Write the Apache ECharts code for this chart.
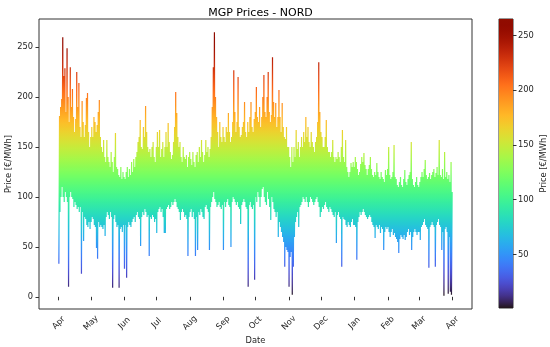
<!DOCTYPE html>
<html><head><meta charset="utf-8">
<script src="https://cdn.jsdelivr.net/npm/echarts@6/dist/echarts.min.js"></script>
<style>html,body{margin:0;padding:0;background:#fff}#c{width:550px;height:347px}</style>
</head><body><div id="c"></div>
<script>
const chartTitle = 'MGP Prices - NORD';
const startYear = 2023, startMonth = 3; // 1 April 2023, one year of data
const xTickLabels = ['Apr','May','Jun','Jul','Aug','Sep','Oct','Nov','Dec','Jan','Feb','Mar','Apr'];
const yTicks = [0, 50, 100, 150, 200, 250];
const cbTicks = [50, 100, 150, 200, 250];

// Daily maximum price (€/MWh), Apr 2023 .. Mar 2024
const dailyHigh = [
  181,190,198,260,221,229,185,249,200,175,230,190,208,180,165,178,225,190,214,170,160,196,175,160,172,199,204,165,150,160,
  170,160,180,175,165,172,185,197,160,150,145,157,140,135,157,140,135,130,145,135,125,140,164,130,128,122,120,130,118,125,120,
  118,125,130,120,128,122,135,125,138,130,140,145,155,160,177,150,148,170,160,191,165,150,145,148,140,150,155,140,135,150,
  165,150,167,140,148,155,140,150,165,150,174,155,145,138,142,155,170,205,184,160,150,155,140,135,150,140,138,142,130,140,145,
  138,132,145,135,130,142,145,135,150,140,157,145,135,142,157,145,150,140,148,160,190,230,265,200,180,165,150,175,160,155,170,
  160,155,170,165,184,165,155,160,175,227,185,165,175,220,170,160,162,170,175,195,165,160,175,165,180,195,170,165,178,185,
  210,180,175,190,170,180,200,222,185,180,200,225,185,175,182,240,195,180,194,170,180,207,180,165,194,170,160,158,170,150,150,
  140,130,150,135,150,140,167,148,155,140,150,160,150,165,155,180,160,170,155,150,165,155,150,145,155,160,175,235,185,165,
  160,150,150,160,177,150,145,145,140,145,157,140,135,140,138,145,140,135,150,167,140,135,157,130,125,120,125,134,130,135,130,
  140,135,128,122,125,133,140,135,144,132,128,122,128,132,140,128,122,120,125,122,134,125,120,118,125,120,118,115,127,122,128,
  150,122,118,120,125,152,120,118,112,110,115,120,112,110,118,127,115,112,118,122,125,155,118,112,110,115,120,112,110,
  115,120,125,120,128,137,122,118,120,124,118,122,125,128,120,124,130,122,157,122,120,128,118,145,120,125,118,122,115,135,105
];
// Daily minimum price (€/MWh)
const dailyLow = [
  33,85,100,110,100,95,105,100,95,10,100,105,100,98,90,95,92,88,90,85,90,23,85,56,80,78,72,70,75,68,
  75,80,78,72,70,49,38,75,70,72,70,68,72,61,80,85,82,78,85,80,9,78,82,75,70,72,9,68,70,65,72,
  28,72,19,70,75,72,70,75,78,80,75,82,85,80,78,51,80,85,82,88,85,80,82,41,80,78,82,80,75,78,
  64,85,88,90,85,88,80,64,64,88,90,92,88,90,95,92,95,98,95,90,88,85,77,85,88,85,80,82,78,41,80,
  85,88,80,85,78,41,80,47,85,82,88,85,80,78,90,92,88,85,47,90,95,100,105,98,95,90,92,95,90,88,92,
  47,95,90,95,98,92,90,50,95,100,98,95,92,95,90,88,73,92,95,98,95,90,88,10,92,95,90,88,92,17,
  100,95,105,100,90,100,108,110,100,95,92,105,98,90,77,100,95,88,85,80,85,60,75,70,65,60,55,30,50,47,45,
  10,40,45,2,30,60,75,80,85,70,90,92,95,100,98,95,100,95,90,95,100,98,95,92,95,98,100,95,90,80,
  85,90,88,92,95,90,88,85,90,88,85,82,80,85,54,82,85,80,78,30,80,78,77,72,70,75,72,70,75,78,72,
  72,70,37,75,80,85,82,85,88,85,82,80,78,80,82,80,75,72,70,59,72,70,68,72,64,70,68,47,65,70,68,
  70,65,60,65,68,62,64,60,58,55,44,58,62,60,58,62,57,60,65,68,62,65,47,60,65,68,65,62,65,
  65,57,70,72,75,78,72,70,68,29,70,72,75,72,70,30,72,75,78,72,70,47,65,1,68,70,65,3,60,5,2
];
const lowHour = 4, highHour = 19;

const HOUR = 3600000, DAY = 24 * HOUR;
const t0 = Date.UTC(startYear, startMonth, 1);
const tEnd = t0 + (dailyHigh.length * 24 - 1) * HOUR;
const span = tEnd - t0;
const xMin = t0 - 0.05 * span, xMax = tEnd + 0.05 * span;
const monthTicks = xTickLabels.map((_, i) => Date.UTC(startYear, startMonth + i, 1));

const lineData = [];
dailyHigh.forEach((h, d) => {
  const base = t0 + d * DAY;
  lineData.push([base + lowHour * HOUR, dailyLow[d]]);
  lineData.push([base + highHour * HOUR, h]);
});
const vmin = Math.min(...dailyLow), vmax = Math.max(...dailyHigh);
const yMin = vmin - 0.05 * (vmax - vmin), yMax = vmax + 0.05 * (vmax - vmin);

function turbo(t) {
  const r = 0.13572138 + t*(4.61539260 + t*(-42.66032258 + t*(132.13108234 + t*(-152.94239396 + t*59.28637943))));
  const g = 0.09140261 + t*(2.19418839 + t*(4.84296658 + t*(-14.18503333 + t*(4.27729857 + t*2.82956604))));
  const b = 0.10667330 + t*(12.64194608 + t*(-60.58204836 + t*(110.36276771 + t*(-89.90310912 + t*27.34824973))));
  const c = v => Math.round(255 * Math.max(0, Math.min(1, v)));
  return 'rgb(' + c(r) + ',' + c(g) + ',' + c(b) + ')';
}
const NSTOP = 48;
const turboColors = Array.from({length: NSTOP + 1}, (_, i) => turbo(i / NSTOP));

const FONT = 'DejaVu Sans';
const TXT = '#262626';
const LINE = '#333';

const chart = echarts.init(document.getElementById('c'), null, {renderer: 'canvas'});
chart.setOption({
  animation: false,
  backgroundColor: '#fff',
  title: {
    text: chartTitle, left: 255.5, top: 3, textAlign: 'center',
    textStyle: {fontFamily: FONT, fontSize: 11, fontWeight: 'normal', color: '#000'}
  },
  grid: [
    {left: 39, top: 19, width: 433, height: 290, show: true, borderColor: LINE, borderWidth: 1,
     containLabel: false, outerBoundsMode: 'none'},
    {left: 499, top: 19, width: 14, height: 289, show: true, borderColor: LINE, borderWidth: 1,
     containLabel: false, outerBoundsMode: 'none'}
  ],
  xAxis: [
    {
      type: 'value', gridIndex: 0, min: xMin, max: xMax,
      name: 'Date', nameLocation: 'middle', nameGap: 28, nameMoveOverlap: false,
      nameTextStyle: {fontFamily: FONT, fontSize: 8.3, color: TXT},
      axisLine: {show: false}, splitLine: {show: false},
      axisTick: {show: true, length: 3.5, customValues: monthTicks, lineStyle: {color: LINE}},
      axisLabel: {
        customValues: monthTicks, rotate: 45, align: 'center', verticalAlign: 'middle', margin: 14,
        fontFamily: FONT, fontSize: 8.3, color: TXT,
        formatter: v => {
          let best = 0;
          monthTicks.forEach((m, i) => { if (Math.abs(m - v) < Math.abs(monthTicks[best] - v)) best = i; });
          return xTickLabels[best];
        }
      }
    },
    {type: 'category', gridIndex: 1, data: ['cb'], show: false}
  ],
  yAxis: [
    {
      type: 'value', gridIndex: 0, min: yMin, max: yMax,
      name: 'Price [€/MWh]', nameLocation: 'middle', nameGap: 26, nameRotate: 90, nameMoveOverlap: false,
      nameTextStyle: {fontFamily: FONT, fontSize: 8.3, color: TXT},
      axisLine: {show: false}, splitLine: {show: false},
      axisTick: {show: true, length: 3.5, customValues: yTicks, lineStyle: {color: LINE}},
      axisLabel: {customValues: yTicks, margin: 6, fontFamily: FONT, fontSize: 8.3, color: TXT}
    },
    {
      type: 'value', gridIndex: 1, min: vmin, max: vmax, position: 'right',
      name: 'Price [€/MWh]', nameLocation: 'middle', nameGap: 27, nameRotate: 90, nameMoveOverlap: false,
      nameTextStyle: {fontFamily: FONT, fontSize: 8.3, color: TXT},
      axisLine: {show: false}, splitLine: {show: false},
      axisTick: {show: true, length: 3.5, customValues: cbTicks, lineStyle: {color: LINE}},
      axisLabel: {customValues: cbTicks, margin: 5, fontFamily: FONT, fontSize: 8.3, color: TXT}
    }
  ],
  visualMap: {
    type: 'continuous', show: false, seriesIndex: 0, dimension: 1,
    min: vmin, max: vmax, inRange: {color: turboColors}
  },
  series: [
    {
      type: 'line', xAxisIndex: 0, yAxisIndex: 0, data: lineData,
      showSymbol: false, symbol: 'none', sampling: null, clip: true,
      lineStyle: {width: 1.2}
    },
    {
      type: 'bar', xAxisIndex: 1, yAxisIndex: 1, data: [vmax], barWidth: '100%', clip: true,
      itemStyle: {
        color: new echarts.graphic.LinearGradient(0, 1, 0, 0,
          turboColors.map((c, i) => ({offset: i / NSTOP, color: c})))
      }
    }
  ]
});
</script></body></html>
